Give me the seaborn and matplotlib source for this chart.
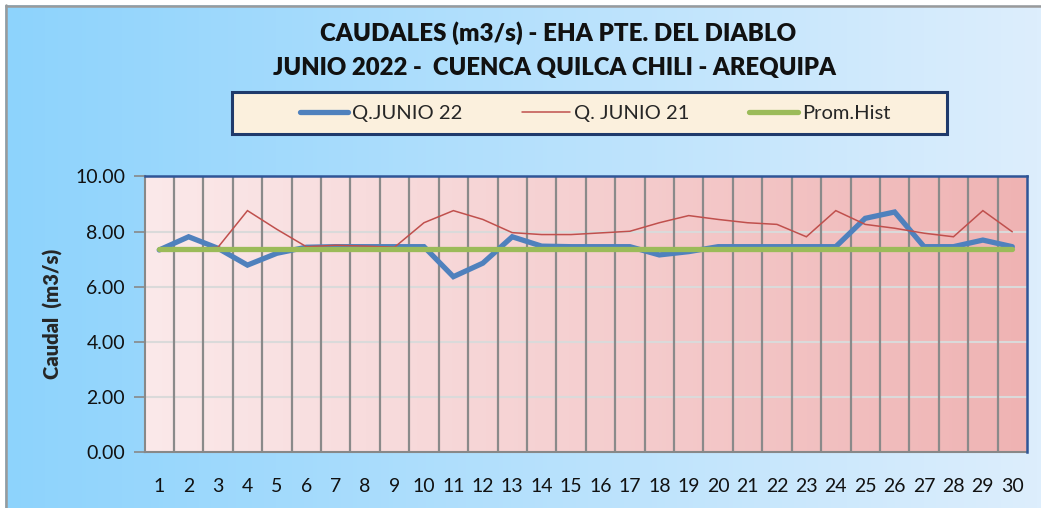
import numpy as np
import pandas as pd
import matplotlib
matplotlib.use("Agg")
import matplotlib.pyplot as plt
from matplotlib.colors import LinearSegmentedColormap
from matplotlib.lines import Line2D
from matplotlib.patches import Rectangle
import seaborn as sns

# ---- data ----
dias = list(range(1, 31))
q_junio22 = [7.33, 7.81, 7.39, 6.78, 7.21, 7.43, 7.45, 7.45, 7.45, 7.45,
             6.36, 6.85, 7.81, 7.47, 7.45, 7.45, 7.45, 7.15, 7.27, 7.45,
             7.45, 7.45, 7.45, 7.45, 8.48, 8.71, 7.45, 7.45, 7.69, 7.45]
q_junio21 = [7.35, 7.35, 7.43, 8.76, 8.08, 7.45, 7.50, 7.47, 7.43, 8.32,
             8.76, 8.44, 7.96, 7.89, 7.89, 7.95, 8.01, 8.32, 8.58, 8.44,
             8.32, 8.26, 7.81, 8.76, 8.26, 8.12, 7.94, 7.81, 8.76, 7.99]
prom_hist = [7.35] * 30
series_names = ["Q.JUNIO 22", "Q. JUNIO 21", "Prom.Hist"]
title_lines = ["CAUDALES (m3/s) - EHA PTE. DEL DIABLO",
               "JUNIO 2022 -  CUENCA QUILCA CHILI - AREQUIPA"]
y_ticks = [0, 2, 4, 6, 8, 10]
y_label = "Caudal  (m3/s)"

df = pd.DataFrame({"dia": dias, series_names[0]: q_junio22,
                   series_names[1]: q_junio21, series_names[2]: prom_hist})

sns.set_theme(style="white")
plt.rcParams["font.family"] = ["Lato", "DejaVu Sans"]

W, H, DPI = 1041, 508, 100
fig = plt.figure(figsize=(W / DPI, H / DPI), dpi=DPI)
fig.patch.set_facecolor("white")

# outer background with gradient
bg = fig.add_axes([5 / W, 0, 1 - 5 / W, 1 - 5 / H])
bg.set_axis_off()
cmap_bg = LinearSegmentedColormap.from_list("bg", ["#8DD3FC", "#DDEEFD"])
bg.imshow(np.linspace(0, 1, 256)[None, :], cmap=cmap_bg, aspect="auto",
          extent=[0, 1, 0, 1])
bg.set_xlim(0, 1); bg.set_ylim(0, 1)
fig.add_artist(Line2D([5.5 / W, 5.5 / W], [0, 1 - 5 / H], color="#9A9A9A", lw=1.8))
fig.add_artist(Line2D([5.5 / W, 1], [1 - 5.5 / H, 1 - 5.5 / H], color="#9A9A9A", lw=1.8))

ax = fig.add_axes([144.5 / W, 1 - 451.7 / H, (1027 - 144.5) / W, (451.7 - 176.5) / H])
cmap_pa = LinearSegmentedColormap.from_list("pa", ["#FBE9EA", "#F5CFD0", "#EFB3B3"])
ax.imshow(np.linspace(0, 1, 256)[None, :], cmap=cmap_pa, aspect="auto",
          extent=[0.5, 30.5, 0, 10], zorder=0)

long = df.melt(id_vars="dia", var_name="serie", value_name="caudal")
palette = {series_names[0]: "#4F81BD", series_names[1]: "#C0504D", series_names[2]: "#9BBB59"}
widths = {series_names[0]: 3.8, series_names[1]: 1.1, series_names[2]: 3.8}
for i, name in enumerate(series_names):
    sub = long[long["serie"] == name]
    sns.lineplot(data=sub, x="dia", y="caudal", ax=ax, color=palette[name],
                 lw=widths[name], zorder=3 + i, legend=False,
                 solid_capstyle="round", solid_joinstyle="miter")

ax.set_xlim(0.5, 30.5)
ax.set_ylim(0, 10)
ax.set_yticks(y_ticks)
ax.set_yticklabels([f"{v:.2f}" for v in y_ticks], fontsize=14, color="#111111")
ax.set_xticks(dias)
ax.set_xticklabels([str(d) for d in dias], fontsize=14, color="#111111")
ax.set_xticks(np.arange(0.5, 31, 1), minor=True)
ax.tick_params(axis="x", which="major", direction="in", length=4, width=1.2,
               color="#888888", pad=19)
ax.tick_params(axis="x", which="minor", direction="out", length=8, width=1.5,
               color="#888888")
ax.tick_params(axis="y", which="major", direction="out", length=8, width=1.2,
               color="#888888", pad=6, left=True)
ax.grid(False)
for v in y_ticks[1:-1]:
    ax.axhline(v, color="#DADADA", lw=1.5, zorder=1)
for xb in np.arange(1.5, 30.5, 1):
    ax.axvline(xb, color="#8A8A8A", lw=1.6, zorder=2)
ax.set_xlabel("")
ax.set_ylabel(y_label, fontsize=14.5, fontweight="heavy", labelpad=9)

for s in ["left", "bottom"]:
    ax.spines[s].set_color("#888888"); ax.spines[s].set_linewidth(1.5)
for s in ["top", "right"]:
    ax.spines[s].set_color("#2F5597"); ax.spines[s].set_linewidth(1.8)
ax.spines["top"].set_zorder(10); ax.spines["right"].set_zorder(10)

fig.text(0.5363, 1 - 33 / H, title_lines[0], ha="center", va="center",
         fontsize=17.4, fontweight="heavy", color="#111111")
fig.text(0.5330, 1 - 68 / H, title_lines[1], ha="center", va="center",
         fontsize=17.2, fontweight="heavy", color="#111111")

# legend box
fig.add_artist(Rectangle((232 / W, 1 - 134 / H), (947 - 232) / W, 42 / H,
                         transform=fig.transFigure, facecolor="#FBF0DD",
                         edgecolor="#1F3A6B", lw=2.2, zorder=5))
handles = [Line2D([], [], color=palette[n], lw=widths[n]) for n in series_names]
leg = fig.legend(handles, series_names, loc="center",
                 bbox_to_anchor=(595 / W, 1 - 113 / H),
                 ncol=3, frameon=False, fontsize=14.5, handlelength=2.4,
                 handletextpad=0.2, borderaxespad=0, columnspacing=2.95)
leg.set_zorder(6)

fig.savefig("out.png", dpi=DPI)
